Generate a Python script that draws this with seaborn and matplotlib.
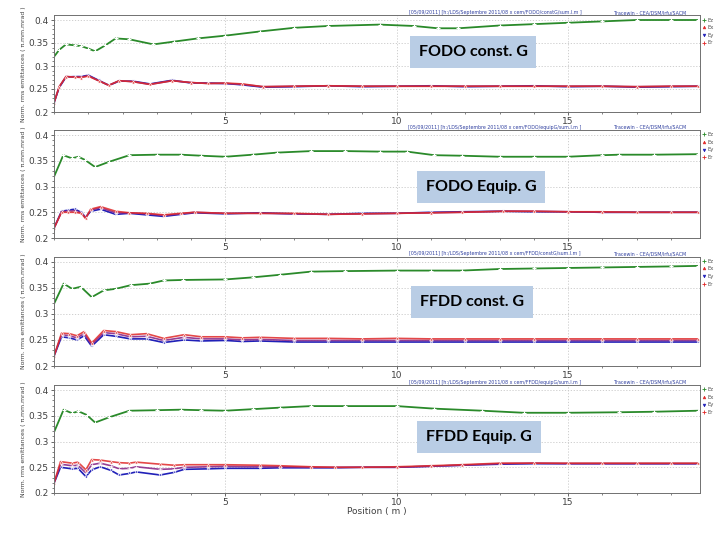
import numpy as np
import pandas as pd
import seaborn as sns
import matplotlib
matplotlib.use("Agg")
import matplotlib.pyplot as plt
from matplotlib.lines import Line2D

# ---------------- data ----------------
titles = ["FODO const. G", "FODO Equip. G", "FFDD const. G", "FFDD Equip. G"]
series_names = ["Ez", "Ex", "Ey", "Er"]

# Panel 1
x1 = [0, 0.15, 0.35, 0.6, 0.8, 1.0, 1.2, 1.5, 1.8, 2.2, 2.9, 3.5, 4.2, 5, 6, 7, 8, 9.5, 10.5, 11.2, 11.8, 13, 14, 15, 16, 17, 18, 18.8]
g1 = [0.320, 0.335, 0.347, 0.345, 0.343, 0.338, 0.332, 0.345, 0.360, 0.358, 0.347, 0.353, 0.360, 0.366, 0.375, 0.383, 0.387, 0.390, 0.387, 0.382, 0.382, 0.388, 0.391, 0.394, 0.397, 0.400, 0.400, 0.400]
xl1 = [0, 0.15, 0.35, 0.6, 0.8, 1.0, 1.3, 1.6, 1.9, 2.3, 2.8, 3.45, 4.0, 4.5, 5.0, 5.5, 6.1, 7, 8, 9, 10, 11, 12, 13, 14, 15, 16, 17, 18, 18.8]
r1 = [0.220, 0.255, 0.277, 0.276, 0.275, 0.278, 0.268, 0.258, 0.268, 0.266, 0.260, 0.268, 0.264, 0.262, 0.263, 0.261, 0.255, 0.256, 0.257, 0.256, 0.256, 0.256, 0.256, 0.256, 0.256, 0.256, 0.256, 0.255, 0.256, 0.256]
b1 = [0.220, 0.253, 0.276, 0.277, 0.277, 0.280, 0.269, 0.258, 0.267, 0.267, 0.261, 0.269, 0.263, 0.263, 0.262, 0.259, 0.254, 0.255, 0.257, 0.255, 0.256, 0.257, 0.255, 0.256, 0.257, 0.255, 0.256, 0.254, 0.255, 0.256]
m1 = [0.220, 0.254, 0.277, 0.276, 0.276, 0.279, 0.268, 0.258, 0.268, 0.266, 0.260, 0.268, 0.264, 0.262, 0.262, 0.260, 0.255, 0.256, 0.257, 0.256, 0.256, 0.256, 0.256, 0.256, 0.256, 0.256, 0.256, 0.255, 0.256, 0.256]

# Panel 2
x2 = [0, 0.27, 0.52, 0.71, 0.9, 1.2, 1.6, 2.2, 3.0, 3.7, 4.3, 5.0, 5.8, 6.5, 7.5, 8.5, 9.5, 10.3, 11.1, 11.9, 13, 14, 15, 16, 16.5, 17.5, 18.8]
g2 = [0.319, 0.361, 0.355, 0.358, 0.352, 0.338, 0.348, 0.361, 0.362, 0.362, 0.360, 0.358, 0.362, 0.366, 0.369, 0.369, 0.368, 0.368, 0.361, 0.360, 0.358, 0.358, 0.358, 0.361, 0.362, 0.362, 0.363]
xl2 = [0, 0.22, 0.4, 0.6, 0.8, 0.92, 1.07, 1.36, 1.8, 2.2, 2.7, 3.2, 3.7, 4.1, 5, 6, 7, 8, 9, 10, 11, 11.9, 13.1, 14, 15, 16, 17, 18, 18.8]
r2 = [0.219, 0.250, 0.250, 0.250, 0.248, 0.238, 0.256, 0.261, 0.252, 0.249, 0.248, 0.245, 0.248, 0.250, 0.248, 0.248, 0.248, 0.246, 0.247, 0.248, 0.249, 0.250, 0.252, 0.252, 0.251, 0.251, 0.250, 0.250, 0.250]
b2 = [0.219, 0.252, 0.254, 0.256, 0.250, 0.240, 0.252, 0.256, 0.246, 0.248, 0.245, 0.242, 0.246, 0.249, 0.247, 0.249, 0.247, 0.246, 0.248, 0.248, 0.250, 0.251, 0.252, 0.251, 0.251, 0.250, 0.250, 0.250, 0.250]
m2 = [0.219, 0.251, 0.252, 0.253, 0.249, 0.239, 0.254, 0.259, 0.249, 0.249, 0.247, 0.244, 0.247, 0.250, 0.248, 0.248, 0.247, 0.246, 0.247, 0.248, 0.249, 0.250, 0.252, 0.252, 0.251, 0.250, 0.250, 0.250, 0.250]

# Panel 3
x3 = [0, 0.28, 0.53, 0.78, 1.1, 1.45, 1.8, 2.24, 2.8, 3.2, 3.75, 5, 5.8, 6.6, 7.5, 8.5, 10, 11, 11.9, 13, 14, 15, 16, 17, 18, 18.8]
g3 = [0.319, 0.358, 0.348, 0.352, 0.332, 0.345, 0.348, 0.355, 0.358, 0.364, 0.365, 0.366, 0.370, 0.375, 0.381, 0.382, 0.383, 0.383, 0.383, 0.386, 0.387, 0.388, 0.389, 0.390, 0.391, 0.392]
xl3 = [0, 0.22, 0.45, 0.67, 0.88, 1.1, 1.45, 1.8, 2.23, 2.7, 3.2, 3.8, 4.3, 5, 5.5, 6, 7, 8, 9, 10, 11, 12, 13, 14, 15, 16, 17, 18, 18.8]
r3 = [0.219, 0.263, 0.262, 0.258, 0.266, 0.244, 0.268, 0.266, 0.260, 0.262, 0.253, 0.260, 0.256, 0.256, 0.254, 0.255, 0.253, 0.253, 0.252, 0.253, 0.252, 0.252, 0.252, 0.252, 0.252, 0.252, 0.252, 0.252, 0.252]
b3 = [0.219, 0.256, 0.254, 0.250, 0.258, 0.238, 0.260, 0.257, 0.252, 0.252, 0.245, 0.250, 0.248, 0.249, 0.247, 0.248, 0.246, 0.246, 0.246, 0.246, 0.246, 0.246, 0.246, 0.246, 0.246, 0.246, 0.246, 0.246, 0.246]
m3 = [0.219, 0.260, 0.258, 0.254, 0.262, 0.241, 0.264, 0.262, 0.256, 0.257, 0.249, 0.255, 0.252, 0.252, 0.250, 0.251, 0.249, 0.249, 0.249, 0.249, 0.249, 0.249, 0.249, 0.249, 0.249, 0.249, 0.249, 0.249, 0.249]

# Panel 4
x4 = [0, 0.28, 0.53, 0.71, 0.95, 1.2, 1.6, 2.2, 3.0, 3.7, 4.3, 5, 5.8, 6.6, 7.5, 8.5, 10, 11.1, 12.5, 13.7, 15, 16.5, 17.5, 18.8]
g4 = [0.318, 0.362, 0.355, 0.359, 0.352, 0.337, 0.347, 0.360, 0.361, 0.362, 0.361, 0.360, 0.363, 0.366, 0.369, 0.369, 0.369, 0.364, 0.360, 0.356, 0.356, 0.357, 0.358, 0.360]
xl4 = [0, 0.19, 0.53, 0.7, 0.93, 1.1, 1.35, 1.66, 1.9, 2.2, 2.4, 3.1, 3.5, 3.8, 4.5, 5, 6, 6.6, 7.5, 8.2, 9, 10, 11, 11.9, 13, 14, 15, 16, 17, 18, 18.8]
r4 = [0.219, 0.261, 0.258, 0.260, 0.245, 0.265, 0.264, 0.261, 0.259, 0.258, 0.260, 0.256, 0.254, 0.255, 0.255, 0.255, 0.254, 0.253, 0.251, 0.250, 0.250, 0.251, 0.253, 0.255, 0.258, 0.258, 0.258, 0.258, 0.258, 0.258, 0.258]
b4 = [0.219, 0.250, 0.247, 0.248, 0.232, 0.245, 0.251, 0.244, 0.235, 0.238, 0.241, 0.235, 0.240, 0.246, 0.247, 0.248, 0.248, 0.249, 0.249, 0.249, 0.250, 0.250, 0.252, 0.254, 0.256, 0.257, 0.257, 0.257, 0.257, 0.257, 0.257]
m4 = [0.219, 0.256, 0.253, 0.254, 0.239, 0.255, 0.258, 0.253, 0.247, 0.248, 0.251, 0.246, 0.247, 0.250, 0.251, 0.252, 0.251, 0.251, 0.250, 0.250, 0.250, 0.250, 0.252, 0.254, 0.257, 0.258, 0.257, 0.257, 0.257, 0.257, 0.257]

y_ticks = [0.2, 0.25, 0.3, 0.35, 0.4]
y_tick_labels = ["0.2", "0.25", "0.3", "0.35", "0.4"]
x_ticks = [5, 10, 15]
x_tick_labels = ["5", "10", "15"]

header_left = ["[05/09/2011] [h:/LDS/Septembre 2011/08 x cem/FODO/constG/sum.l.m ]",
               "[05/09/2011] [h:/LDS/Septembre 2011/08 x cem/FODO/equipG/sum.l.m ]",
               "[05/09/2011] [h:/LDS/Septembre 2011/08 x cem/FFDD/constG/sum.l.m ]",
               "[05/09/2011] [h:/LDS/Septembre 2011/08 x cem/FFDD/equipG/sum.l.m ]"]
header_right = "Tracewin - CEA/DSM/Irfu/SACM"
y_label = "Norm. rms emittances ( π.mm.mrad )"
x_label = "Position ( m )"

panels = [
    (x1, g1, xl1, r1, b1, m1),
    (x2, g2, xl2, r2, b2, m2),
    (x3, g3, xl3, r3, b3, m3),
    (x4, g4, xl4, r4, b4, m4),
]

# ---------------- style ----------------
sns.set_theme(style="white")
plt.rcParams['font.family'] = ['DejaVu Sans']

col_g = "#2a8a2a"
col_r = "#e02828"
col_b = "#2020b8"
col_m = "#8a2a8a"
grid_c = "#c8c8c8"
tick_c = "#505050"

fig = plt.figure(figsize=(7.2, 5.4), dpi=100)
W, H = 720.0, 540.0
left_px, right_px = 54, 700
rows = [(15.4, 112), (130, 238), (256.5, 366), (385, 493)]
box_centers = [(473, 52), (481, 187), (472, 302), (479, 437)]

for i, ((xg, yg, xl, yr, yb, ym), (tp, bp)) in enumerate(zip(panels, rows)):
    ax = fig.add_axes([left_px / W, 1 - bp / H, (right_px - left_px) / W, (bp - tp) / H])
    ax.grid(True, which="major", color=grid_c, linestyle=(0, (1.5, 2)), linewidth=0.6)
    ax.set_axisbelow(True)
    dg = pd.DataFrame({"x": xg, "y": yg})
    sns.lineplot(data=dg, x="x", y="y", ax=ax, color=col_g, lw=1.3,
                 marker="+", markersize=3, markeredgewidth=0.8, sort=False)
    for yy, cc, mk, al in [(yb, col_b, "v", 1.0), (ym, col_m, "+", 0.9), (yr, col_r, "^", 0.85)]:
        dl = pd.DataFrame({"x": xl, "y": yy})
        sns.lineplot(data=dl, x="x", y="y", ax=ax, color=cc, lw=1.2, alpha=al,
                     marker=mk, markersize=2.2, markeredgewidth=0.5, sort=False)
    ax.set_xlim(0, 18.85)
    ax.set_ylim(0.2, 0.41)
    ax.set_yticks(y_ticks)
    ax.set_yticklabels(y_tick_labels)
    ax.set_xticks(x_ticks)
    ax.set_xticklabels(x_tick_labels)
    ax.set_xticks(np.arange(0, 19, 1), minor=True)
    ax.set_yticks(np.arange(0.2, 0.41, 0.01), minor=True)
    ax.tick_params(axis="both", which="major", labelsize=6.5, colors=tick_c,
                   direction="out", length=2.5, width=0.6, pad=1.2, labelcolor="#404040")
    ax.tick_params(axis="both", which="minor", direction="out", length=1.6, width=0.5, colors=tick_c)
    ax.tick_params(axis="x", which="both", bottom=True)
    ax.tick_params(axis="y", which="both", left=True)
    for s in ax.spines.values():
        s.set_color("#707070")
        s.set_linewidth(0.7)
    ax.set_xlabel("")
    ax.set_ylabel(y_label, fontsize=4.4, color="#404040", labelpad=2)
    if i == 3:
        ax.set_xlabel(x_label, fontsize=6.5, color="#404040", labelpad=0)

    # headers above each panel
    fig.text(495 / W, 1 - (tp - 2.6) / H, header_left[i], fontsize=3.4, color="#3040a0",
             ha="center", va="center")
    fig.text(650 / W, 1 - (tp - 2.6) / H, header_right, fontsize=3.4, color="#3040a0",
             ha="center", va="center")

    # legend at right outside
    handles = [Line2D([], [], color=col_g, marker="+", ls="none", ms=2.5, mew=0.6),
               Line2D([], [], color=col_r, marker="^", ls="none", ms=2, mew=0.4),
               Line2D([], [], color=col_b, marker="v", ls="none", ms=2, mew=0.4),
               Line2D([], [], color=col_r, marker="+", ls="none", ms=2.5, mew=0.6)]
    leg = ax.legend(handles, series_names, loc="upper left", bbox_to_anchor=(1.0, 1.0),
                    fontsize=3.8, frameon=False, handlelength=0.6, handletextpad=0.4,
                    borderaxespad=0.2, labelspacing=0.5, borderpad=0.2)
    for t in leg.get_texts():
        t.set_color("#505050")

    # label box
    cx, cy = box_centers[i]
    fig.text(cx / W, 1 - cy / H, titles[i], fontsize=11.5, fontweight="bold",
             family=["Lato", "DejaVu Sans"], color="black", ha="center", va="center",
             bbox=dict(boxstyle="square,pad=0.55", facecolor="#b9cde5", edgecolor="none"))

fig.savefig("out.png", dpi=100)
